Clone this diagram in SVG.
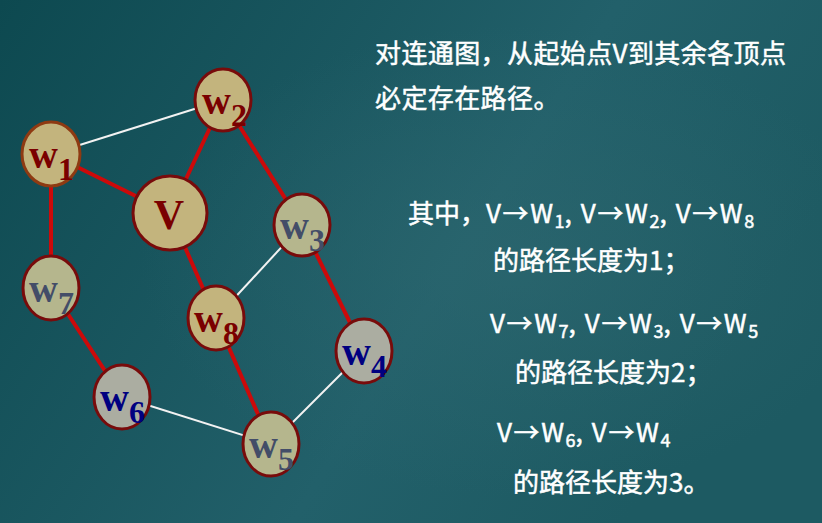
<svg xmlns="http://www.w3.org/2000/svg" width="822" height="523" viewBox="0 0 822 523">
  <defs>
    <linearGradient id="bg" x1="0" y1="0" x2="1" y2="0.4">
      <stop offset="0" stop-color="#0D4950"/>
      <stop offset="0.65" stop-color="#22606A"/>
      <stop offset="1" stop-color="#1D5A62"/>
    </linearGradient>
    <radialGradient id="glow" cx="0.62" cy="0.5" r="0.45">
      <stop offset="0" stop-color="#2F6870" stop-opacity="0.55"/>
      <stop offset="1" stop-color="#2F6870" stop-opacity="0"/>
    </radialGradient>
    <style>
      .red { stroke: #CC0A0A; stroke-width: 4; fill: none; }
      .wht { stroke: #F2F2F2; stroke-width: 2; fill: none; }
      .node { stroke: #780B0B; stroke-width: 3; }
      .tan { fill: #C3B47D; }
      .olive { fill: #B5B68D; }
      .grey { fill: #ABADA1; }
      .lbl { font-family: "Liberation Serif", "Times New Roman", serif; font-weight: bold; font-size: 40px; }
      .sub { font-size: 32px; }
      .c1 { fill: #7A0000; }
      .c2 { fill: #434D68; }
      .c3 { fill: #000080; }
      .txt { font-family: "Noto Sans CJK SC", "Noto Sans", sans-serif; font-size: 26px; fill: #FFFFFF; stroke: #FFFFFF; stroke-width: 0.5px; }
      .ln1 { letter-spacing: 0.4px; }
      .lat { letter-spacing: 1.6px; }
      .s { font-size: 18px; letter-spacing: 0; }
    </style>
  </defs>

  <rect width="822" height="523" fill="url(#bg)"/>
  <rect width="822" height="523" fill="url(#glow)"/>

  <!-- connectors -->
  <g id="edges">
    <line class="wht" x1="51" y1="154" x2="223" y2="100"/>
    <line class="wht" x1="302" y1="225" x2="216" y2="318"/>
    <line class="wht" x1="122" y1="397" x2="271" y2="444"/>
    <line class="wht" x1="271" y1="444" x2="364" y2="351"/>
    <line class="red" x1="170" y1="213" x2="51" y2="154"/>
    <line class="red" x1="170" y1="213" x2="223" y2="100"/>
    <line class="red" x1="170" y1="213" x2="216" y2="318"/>
    <line class="red" x1="51" y1="154" x2="51" y2="288"/>
    <line class="red" x1="223" y1="100" x2="302" y2="225"/>
    <line class="red" x1="51" y1="288" x2="122" y2="397"/>
    <line class="red" x1="302" y1="225" x2="364" y2="351"/>
    <line class="red" x1="216" y1="318" x2="271" y2="444"/>
  </g>

  <!-- vertices -->
  <g id="node-w1">
    <ellipse class="node tan" cx="51" cy="154" rx="29" ry="32" style="stroke:#8E3A12"/>
    <text class="lbl c1" x="29" y="168">w<tspan class="sub" dy="12">1</tspan></text>
  </g>
  <g id="node-w2">
    <ellipse class="node tan" cx="223" cy="100" rx="28" ry="31"/>
    <text class="lbl c1" x="202" y="114">w<tspan class="sub" dy="12">2</tspan></text>
  </g>
  <g id="node-v">
    <circle class="node tan" cx="170" cy="213" r="37"/>
    <text class="lbl c1" x="169" y="229" text-anchor="middle" style="font-size:42px">V</text>
  </g>
  <g id="node-w3">
    <ellipse class="node olive" cx="302" cy="225" rx="28" ry="31"/>
    <text class="lbl c2" x="280" y="239">w<tspan class="sub" dy="12">3</tspan></text>
  </g>
  <g id="node-w7">
    <ellipse class="node olive" cx="51" cy="288" rx="28" ry="32"/>
    <text class="lbl c2" x="29" y="302">w<tspan class="sub" dy="12">7</tspan></text>
  </g>
  <g id="node-w8">
    <ellipse class="node tan" cx="216" cy="318" rx="28" ry="32"/>
    <text class="lbl c1" x="194" y="332">w<tspan class="sub" dy="12">8</tspan></text>
  </g>
  <g id="node-w4">
    <ellipse class="node grey" cx="364" cy="351" rx="28" ry="32"/>
    <text class="lbl c3" x="342" y="365">w<tspan class="sub" dy="12">4</tspan></text>
  </g>
  <g id="node-w6">
    <ellipse class="node grey" cx="122" cy="397" rx="28" ry="32"/>
    <text class="lbl c3" x="100" y="411">w<tspan class="sub" dy="12">6</tspan></text>
  </g>
  <g id="node-w5">
    <ellipse class="node olive" cx="271" cy="444" rx="28" ry="32"/>
    <text class="lbl c2" x="249" y="458">w<tspan class="sub" dy="12">5</tspan></text>
  </g>

  <!-- explanation -->
  <g id="notes" class="txt">
    <text class="ln1" x="375" y="63">对连通图，从起始点V到其余各顶点</text>
    <text class="ln1" x="375" y="108">必定存在路径。</text>
    <text x="408" y="223">其中，<tspan class="lat">V→W</tspan><tspan class="s" dy="5">1</tspan><tspan class="lat" dy="-5">, V→W</tspan><tspan class="s" dy="5">2</tspan><tspan class="lat" dy="-5">, V→W</tspan><tspan class="s" dy="5">8</tspan></text>
    <text x="493" y="270">的路径长度为1；</text>
    <text x="490" y="333"><tspan class="lat">V→W</tspan><tspan class="s" dy="5">7</tspan><tspan class="lat" dy="-5">, V→W</tspan><tspan class="s" dy="5">3</tspan><tspan class="lat" dy="-5">, V→W</tspan><tspan class="s" dy="5">5</tspan></text>
    <text x="515" y="382">的路径长度为2；</text>
    <text x="497" y="442"><tspan class="lat">V→W</tspan><tspan class="s" dy="5">6</tspan><tspan class="lat" dy="-5">, V→W</tspan><tspan class="s" dy="5">4</tspan></text>
    <text x="513" y="492">的路径长度为3。</text>
  </g>
</svg>
